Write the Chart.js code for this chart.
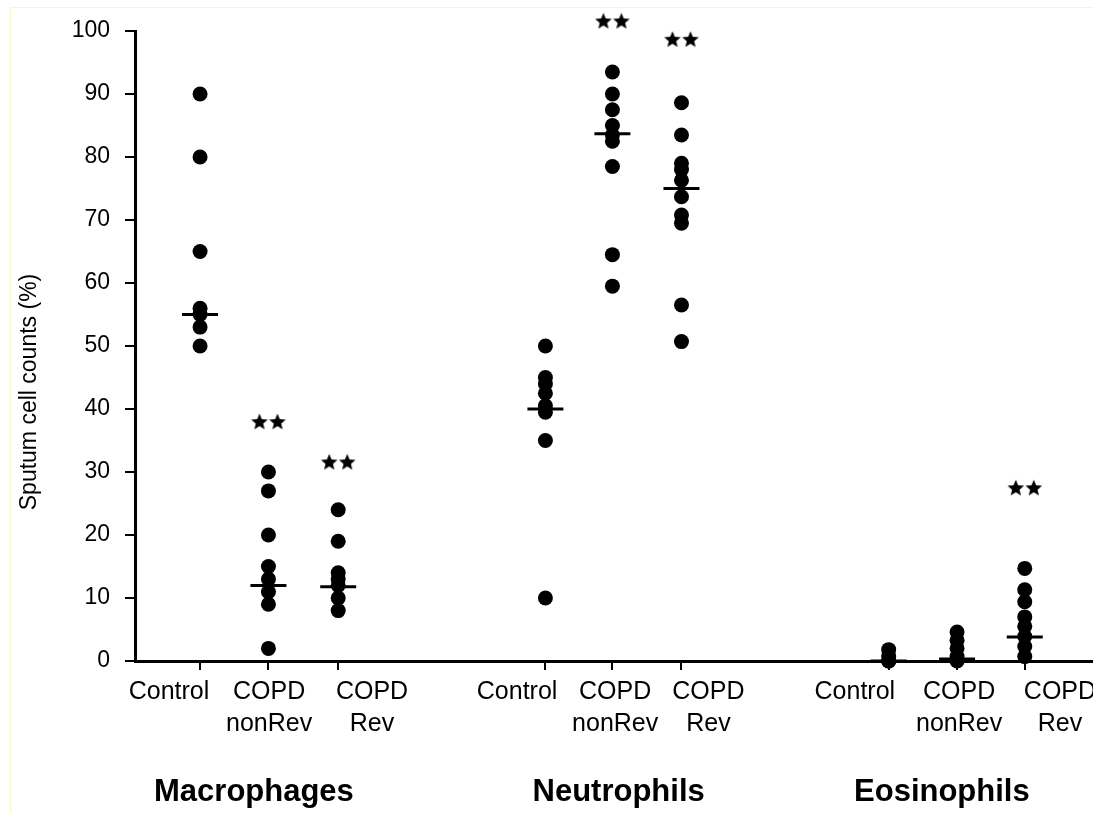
<!DOCTYPE html>
<html>
<head>
<meta charset="utf-8">
<script src="https://cdn.jsdelivr.net/npm/chart.js@4/dist/chart.umd.min.js"></script>
<style>
  html, body { margin: 0; padding: 0; background: #fff; overflow: hidden; }
  #wrap { position: relative; width: 1160px; height: 813px; }
  #frame { position: absolute; left: 10px; top: 7px; width: 1200px; height: 900px;
           border: 1px solid #fbf6c8; pointer-events: none; }
</style>
</head>
<body>
<div id="wrap">
  <canvas id="grafico"></canvas>
  <div id="frame"></div>
</div>
<script>
// datos (% de celulas en esputo)
const cellTypes = ['Macrophages', 'Neutrophils', 'Eosinophils'];
const subjects = [['Control'], ['COPD', 'nonRev'], ['COPD', 'Rev']];

const macrophages = [
    [90, 80, 65, 56, 55, 53, 50],
    [30, 27, 20, 15, 13, 11, 9, 2],
    [24, 19, 14, 13, 12, 10, 8]
];
const neutrophils = [
    [50, 45, 44, 42.5, 40.5, 39.5, 35, 10],
    [93.5, 90, 87.5, 85, 83.5, 82.5, 78.5, 64.5, 59.5],
    [88.6, 83.5, 79, 78, 76.3, 73.7, 70.8, 69.5, 56.5, 50.7]
];
const eosinophils = [
    [1.8, 0.7, 0, 0],
    [4.6, 3.3, 2, 0.7, 0],
    [14.7, 11.3, 9.4, 7, 5.5, 3.9, 2.3, 0.7]
];

const macrophageMedians = [55, 12, 11.8];
const neutrophilMedians = [40, 83.7, 75];
const eosinophilMedians = [0, 0.3, 3.8];

// altura de los "**" (p < 0.01 vs control)
const macrophageStars = [null, 38, 31.6];
const neutrophilStars = [null, 101.6, 98.7];
const eosinophilStars = [null, null, 27.5];

const yTicks = [0, 10, 20, 30, 40, 50, 60, 70, 80, 90, 100];

// posiciones en el eje x
const slotX = [1, 1.99, 3, 6, 6.97, 7.97, 10.97, 11.96, 12.94];
const labelX = [0.55, 2.0, 3.49, 5.59, 7.01, 8.36, 10.48, 11.99, 13.45];
const groupX = [1.78, 7.06, 11.74];
const xMin = 0.058, xMax = 14.594;

const allValues = [macrophages, neutrophils, eosinophils];
const allMedians = [macrophageMedians, neutrophilMedians, eosinophilMedians];
const allStars = [macrophageStars, neutrophilStars, eosinophilStars];

const dots = [], medians = [], stars = [];
allValues.forEach((grupo, g) => {
    grupo.forEach((valores, s) => {
        const x = slotX[g * 3 + s];
        valores.forEach(v => dots.push({x: x, y: v}));
        medians.push({x: x, y: allMedians[g][s]});
        if (allStars[g][s] !== null) stars.push({x: x, y: allStars[g][s]});
    });
});

// "**" dibujado como dos estrellas rellenas
function starImage() {
    const c = document.createElement('canvas');
    c.width = 36; c.height = 17;
    const ctx = c.getContext('2d');
    ctx.fillStyle = '#000';
    [9, 27].forEach(cx => {
        ctx.beginPath();
        for (let i = 0; i < 10; i++) {
            const r = i % 2 === 0 ? 8.7 : 3.9;
            const a = -Math.PI / 2 + i * Math.PI / 5;
            ctx.lineTo(cx + r * Math.cos(a), 9.2 + r * Math.sin(a));
        }
        ctx.closePath();
        ctx.fill();
    });
    return c;
}

Chart.defaults.font.family = '"Liberation Sans", Arial, sans-serif';
Chart.defaults.color = '#000';

const ctx = document.getElementById('grafico').getContext('2d');
new Chart(ctx, {
    type: 'scatter',
    data: {
        datasets: [{
            label: 'Sputum cells',
            data: dots,
            pointRadius: 7.5,
            pointBackgroundColor: '#000',
            pointBorderWidth: 0,
            clip: false
        }, {
            label: 'Median',
            data: medians,
            pointStyle: 'line',
            pointRadius: 18,
            pointBorderColor: '#000',
            pointBorderWidth: 3,
            clip: false
        }, {
            label: '**',
            data: stars,
            pointStyle: starImage(),
            pointRadius: 20,
            clip: false
        }]
    },
    options: {
        responsive: true,
        maintainAspectRatio: false,
        animation: false,
        layout: {
            padding: {top: 31, left: 0, right: 0, bottom: 3}
        },
        scales: {
            x: {
                type: 'linear',
                position: 'bottom',
                min: xMin,
                max: xMax,
                afterBuildTicks: s => { s.ticks = slotX.map(v => ({value: v})); },
                ticks: {display: false},
                grid: {drawOnChartArea: false, drawTicks: true, tickLength: 9, color: '#000', lineWidth: 2},
                border: {display: true, color: '#000', width: 3}
            },
            xSubjects: {
                type: 'linear',
                position: 'bottom',
                min: xMin,
                max: xMax,
                afterBuildTicks: s => { s.ticks = labelX.map(v => ({value: v})); },
                ticks: {
                    autoSkip: false,
                    maxRotation: 0,
                    padding: 6,
                    font: {size: 25, lineHeight: 1.28},
                    callback: (v, i) => subjects[i % 3]
                },
                grid: {display: false, drawTicks: false},
                border: {display: false},
                afterFit: s => { s.height = 70; }
            },
            xCells: {
                type: 'linear',
                position: 'bottom',
                min: xMin,
                max: xMax,
                afterBuildTicks: s => { s.ticks = groupX.map(v => ({value: v})); },
                ticks: {
                    autoSkip: false,
                    maxRotation: 0,
                    padding: 34,
                    font: {size: 31, weight: 'bold'},
                    callback: (v, i) => cellTypes[i]
                },
                grid: {display: false, drawTicks: false},
                border: {display: false},
                afterFit: s => { s.height = 70; }
            },
            y: {
                min: 0,
                max: 100,
                afterBuildTicks: s => { s.ticks = yTicks.map(v => ({value: v})); },
                ticks: {padding: 15, font: {size: 23}},
                grid: {drawOnChartArea: false, tickLength: 10, color: '#000', lineWidth: 2},
                border: {color: '#000', width: 3},
                title: {
                    display: true,
                    text: 'Sputum cell counts (%)\u2003\u2003\u2003\u2003',
                    font: {size: 23},
                    padding: {top: 16, bottom: 0}
                },
                afterFit: s => { s.width = 135; }
            }
        },
        plugins: {
            legend: {display: false},
            tooltip: {enabled: false}
        }
    }
});
</script>
</body>
</html>
